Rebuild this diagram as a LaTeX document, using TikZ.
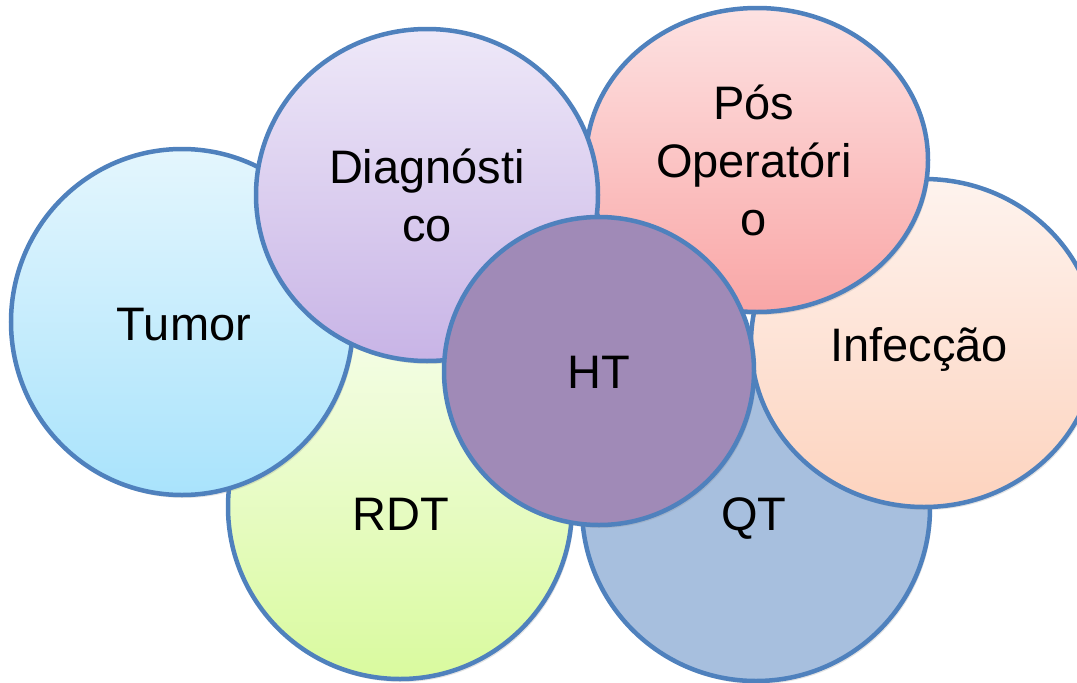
\documentclass[tikz,border=0pt]{standalone}
\usepackage{fontspec}
\setmainfont{Liberation Sans}
\usetikzlibrary{shapes.geometric,shadows}
\definecolor{edgeblue}{HTML}{4F81BD}
\definecolor{tumtop}{HTML}{E4F6FD}
\definecolor{tumbot}{HTML}{A9E3FC}
\definecolor{diatop}{HTML}{EEE8F8}
\definecolor{diabot}{HTML}{C8B4E6}
\definecolor{postop}{HTML}{FDE2E2}
\definecolor{posbot}{HTML}{F9A6A6}
\definecolor{inftop}{HTML}{FEF3EE}
\definecolor{infbot}{HTML}{FDD3BE}
\definecolor{rdttop}{HTML}{F4FDE6}
\definecolor{rdtbot}{HTML}{D9FA9E}
\definecolor{qtfill}{HTML}{A7BFDE}
\definecolor{htfill}{HTML}{A08AB7}
\tikzset{
  bubble/.style={ellipse, draw=edgeblue, line width=4.5pt, inner sep=0pt,
    drop shadow={opacity=0.22, shadow xshift=2pt, shadow yshift=-3pt}},
  lbl/.style={font=\fontsize{47}{58}\selectfont, align=center, anchor=base, text=black, inner sep=0pt}
}
\begin{document}
\begin{tikzpicture}[x=1pt, y=-1pt]
\useasboundingbox (0,0) rectangle (1077,683);
\clip (0,0) rectangle (1077,683);
\node[bubble, top color=rdttop, bottom color=rdtbot, minimum width=344pt, minimum height=344pt] (rdt) at (400,507) {};
\node[bubble, fill=qtfill, minimum width=348pt, minimum height=346pt] (qt) at (756,508) {};
\node[bubble, top color=inftop, bottom color=infbot, minimum width=346pt, minimum height=328pt] (inf) at (924,343) {};
\node[bubble, top color=tumtop, bottom color=tumbot, minimum width=342pt, minimum height=346pt] (tum) at (182,322) {};
\node[bubble, top color=postop, bottom color=posbot, minimum width=342pt, minimum height=304pt] (pos) at (757,160) {};
\node[bubble, top color=diatop, bottom color=diabot, minimum width=342pt, minimum height=332pt] (dia) at (427,195) {};
\node[bubble, fill=htfill, minimum width=310pt, minimum height=308pt] (ht) at (599,371) {};

\node[lbl] (tumlbl) at (184,340) {Tumor};
\node[lbl] (rdtlbl) at (401,530) {RDT};
\node[lbl] (qtlbl) at (754,530) {QT};
\node[lbl] (inflbl) at (919,361) {Infecção};
\node[lbl] (htlbl) at (599,388) {HT};
\node[lbl] (dialbl) at (427,241) {Diagnósti\\co};
\node[lbl] (poslbl) at (754,235) {Pós\\Operatóri\\o};
\end{tikzpicture}
\end{document}
